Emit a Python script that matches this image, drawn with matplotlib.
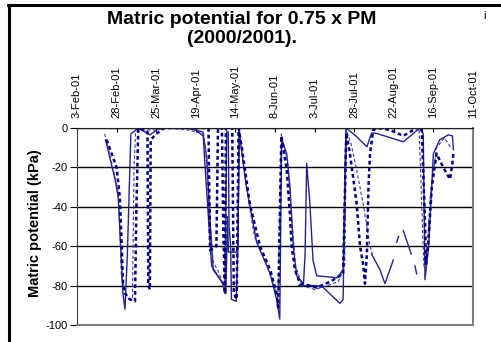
import numpy as np
import pandas as pd
import matplotlib
matplotlib.use("Agg")
import matplotlib.pyplot as plt
import matplotlib.dates as mdates
from matplotlib.lines import Line2D

plt.rcParams['font.family'] = ['Liberation Sans', 'DejaVu Sans']

start = pd.Timestamp('2001-02-03')

# days after 3-Feb-01, matric potential (kPa)
s1_day = [18, 24, 26, 29, 30.3, 31.8, 34, 38.7, 46, 52, 69, 79.5, 82, 84, 86, 92.4, 94, 95, 95.6, 100.6,
          101.6, 102.4, 103, 107, 113.4, 122, 126, 128, 129.2, 132.4, 134.5, 136.5, 138.7, 143, 144, 145,
          147, 149, 151.3, 164, 168, 170, 176.5, 183, 186, 189, 206, 216.5, 218.6, 219.7, 222, 225, 229,
          234.4, 237, 237.6]
s1_val = [-6, -26, -35, -84, -92, -64, -3, 0, -3.5, 0, 0, -2, -16, -47, -72, -79, -84, -45, -63, -63,
          -60, 0, -6, -30, -58, -74, -87, -97, -6, -13, -30, -60, -75, -79, -64, -18,
          -38, -67, -75, -76, -72, 0, -4.4, -9.5, -2.5, -2.7, -7, 0, -3, -77, -60, -13, -6,
          -3.5, -4, -11]

s2_day = [75, 79.7, 80.8, 85, 92, 93.4, 94.5, 95.5, 96, 97, 97.5, 100.5, 101.5, 102.5, np.nan,
          140, 151, 155.5, 162, 166, 168, 169.5, 170, np.nan,
          186, 191.3, 194.4, 199.7, np.nan, 201.8, 203, np.nan, 206, 211, np.nan, 213.4, 214.4]
s2_val = [-1, -4, -19, -70, -79, -84, -2, -2, -50, -60, -87, -88, -62, 0, np.nan,
          -80, -80, -81, -86, -89, -87, -10, 0, np.nan,
          -64, -72, -79, -67, np.nan, -58, -55, np.nan, -52, -64, np.nan, -70, -74]

s3_day = [18.7, 25, 27, 28, 29, 30.3, 33.5, 36.6, 37.5, 38.7, 42, 44.5, 45, 46, 46.5, 50, 55, 83, 84,
          88, 89, 91.5, 92.4, 93.4, 94, 98, 99, 100.8, 102, 104, 109, 115.5, 122, 126, 127, 129, 132.4,
          134.5, 135.5, 137.6, 140.8, 147, 151, 160, 168, 170, 172.3, 176.5, 178.7, 180.8, 181.8, 183,
          184, 185, 187, 190, 197.6, 206, 214.4, 217.6, 219.7, 220.3, 221.8, 224, 227, 230, 233.3,
          235.5, 237, 237.6]
s3_val = [-6, -20, -35, -55, -78, -84, -87, -88, -40, 0, -1, -2, -80, -82, -6, -3, 0, 0, -62,
          -60, 0, 0, -53, -84, 0, 0, -84, -87, 0, -9.5, -38, -60, -72, -84, -91, -4, -21,
          -45, -60, -72, -79, -80, -81, -78, -74, -2.5, -13, -38, -60, -70, -79, -64,
          -30, -13, -1, 0, -1, -4, 0, 0, -47, -69, -58, -30, -13, -18, -23,
          -26, -18, -13]

s4_day = [17.5, 22, 26, 27, 28, 31, 33, 35, 36, 37, 42, 50, 58, 70, 80, 81.5, 83.5, 86, 90, 93, 94.5,
          np.nan, 103, 106, 112, 120, 124, 127, 129, 133, 136, 138, 142, 150, 158, 165, 169, 170, 173,
          176.5, 181, 185, 186.5, np.nan, 216, 219, 220.5, 223, 227, 232, 236]
s4_val = [-3, -18, -32, -50, -75, -85, -87, -86, -20, -2, -1, -1, 0, -1, -3, -14, -45, -68, -74, -82, -1,
          np.nan, -5, -25, -55, -70, -80, -85, -3, -17, -50, -70, -80, -82, -80, -78, -70, -1, -8,
          -21, -40, -60, -64, np.nan, -1, -70, -72, -35, -10, -5, -10]

tick_dates = pd.date_range('2001-02-03', periods=11, freq='25D')
y_ticks = [0, -20, -40, -60, -80, -100]


def to_dates(days):
    return mdates.date2num(start) + np.array(days, dtype=float)


fig = plt.figure(figsize=(5.01, 3.42), dpi=100)
ax = fig.add_axes([0.1537, 0.0497, 0.7904, 0.576])

navy = '#000080'
ax.plot(to_dates(s1_day), s1_val, color='#23238a', lw=1.0)
ax.plot(to_dates(s2_day), s2_val, color='#23238a', lw=1.0)
ax.plot(to_dates(s4_day), s4_val, color='#3a3a9a', lw=0.8, dashes=(3, 2))
ax.plot(to_dates(s3_day), s3_val, color=navy, lw=1.8, dashes=(1.5, 1.2))

ax.xaxis_date()
ax.set_xlim(mdates.date2num(tick_dates[0]), mdates.date2num(tick_dates[-1]))
ax.set_ylim(-100, 0)
ax.set_yticks(y_ticks)
ax.set_yticklabels([str(v) for v in y_ticks], fontsize=8)
ax.yaxis.grid(True, color='black', lw=1)
ax.set_axisbelow(True)

ax.xaxis.tick_top()
ax.set_xticks(mdates.date2num(tick_dates))
ax.set_xticklabels([f"{d.day}-{d:%b}-{d:%y}" for d in tick_dates], rotation=90, fontsize=8)
ax.tick_params(axis='x', direction='in', length=3, pad=7, top=True, bottom=False)
ax.tick_params(axis='y', direction='out', length=5, pad=2)

ax.set_ylabel('Matric potential (kPa)', fontsize=10.5, fontweight='bold', va='center')
ax.yaxis.set_label_coords(-0.106, 0.518)

for side in ['bottom', 'right']:
    ax.spines[side].set_color('#808080')
    ax.spines[side].set_linewidth(1.5)
ax.spines['left'].set_color('#404040')
ax.spines['top'].set_color('#202020')

fig.text(242 / 501, 1 - 29 / 342, 'Matric potential for 0.75 x PM\n(2000/2001).',
         ha='center', va='center', fontsize=14, fontweight='bold', linespacing=1.15)
fig.text(485 / 501, 1 - 16 / 342, 'i', ha='center', va='center', fontsize=8)

# outer frame (left and top)
fig.add_artist(Line2D([9 / 501, 9 / 501], [0, 1 - 5 / 342], transform=fig.transFigure,
                      color='black', lw=2.2))
fig.add_artist(Line2D([8 / 501, 1], [1 - 5 / 342, 1 - 5 / 342], transform=fig.transFigure,
                      color='black', lw=2.2))

fig.savefig('out.png', dpi=100)
